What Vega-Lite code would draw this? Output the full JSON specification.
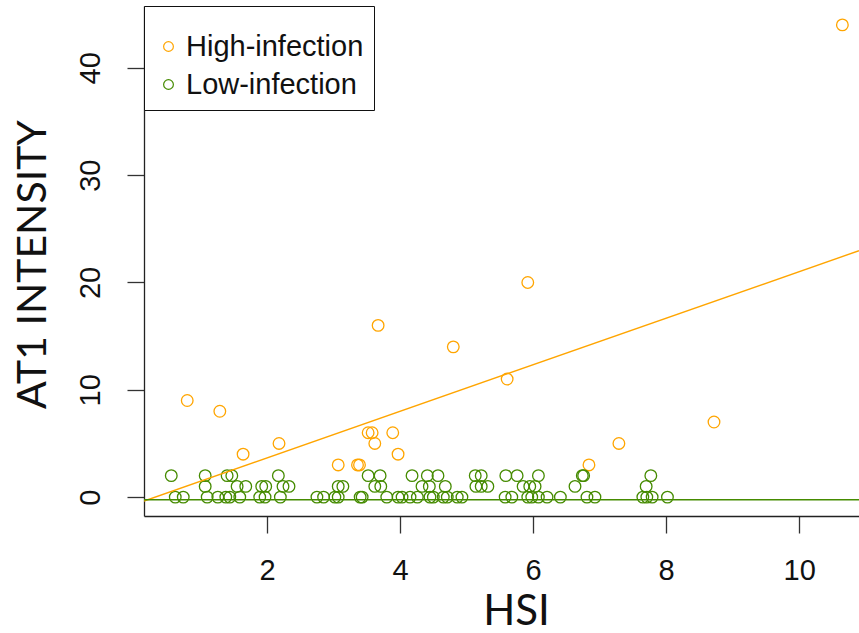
{
  "$schema": "https://vega.github.io/schema/vega-lite/v6.json",
  "autosize": {"type": "none"},
  "padding": {"left": 144, "top": 6, "right": 0, "bottom": 117},
  "width": 715,
  "height": 510,
  "background": "white",
  "config": {"view": {"stroke": null}},
  "datasets": {
    "pts": [
      {"hsi": 0.80, "at1": 9, "group": "High-infection"},
      {"hsi": 1.29, "at1": 8, "group": "High-infection"},
      {"hsi": 1.64, "at1": 4, "group": "High-infection"},
      {"hsi": 2.18, "at1": 5, "group": "High-infection"},
      {"hsi": 3.07, "at1": 3, "group": "High-infection"},
      {"hsi": 3.36, "at1": 3, "group": "High-infection"},
      {"hsi": 3.39, "at1": 3, "group": "High-infection"},
      {"hsi": 3.52, "at1": 6, "group": "High-infection"},
      {"hsi": 3.58, "at1": 6, "group": "High-infection"},
      {"hsi": 3.62, "at1": 5, "group": "High-infection"},
      {"hsi": 3.67, "at1": 16, "group": "High-infection"},
      {"hsi": 3.89, "at1": 6, "group": "High-infection"},
      {"hsi": 3.97, "at1": 4, "group": "High-infection"},
      {"hsi": 4.80, "at1": 14, "group": "High-infection"},
      {"hsi": 5.61, "at1": 11, "group": "High-infection"},
      {"hsi": 5.92, "at1": 20, "group": "High-infection"},
      {"hsi": 6.84, "at1": 3, "group": "High-infection"},
      {"hsi": 7.29, "at1": 5, "group": "High-infection"},
      {"hsi": 8.72, "at1": 7, "group": "High-infection"},
      {"hsi": 10.65, "at1": 44, "group": "High-infection"},
      {"hsi": 0.56, "at1": 2, "group": "Low-infection"},
      {"hsi": 1.07, "at1": 2, "group": "Low-infection"},
      {"hsi": 1.40, "at1": 2, "group": "Low-infection"},
      {"hsi": 1.47, "at1": 2, "group": "Low-infection"},
      {"hsi": 2.17, "at1": 2, "group": "Low-infection"},
      {"hsi": 3.52, "at1": 2, "group": "Low-infection"},
      {"hsi": 3.70, "at1": 2, "group": "Low-infection"},
      {"hsi": 4.18, "at1": 2, "group": "Low-infection"},
      {"hsi": 4.41, "at1": 2, "group": "Low-infection"},
      {"hsi": 4.57, "at1": 2, "group": "Low-infection"},
      {"hsi": 5.13, "at1": 2, "group": "Low-infection"},
      {"hsi": 5.22, "at1": 2, "group": "Low-infection"},
      {"hsi": 5.59, "at1": 2, "group": "Low-infection"},
      {"hsi": 5.76, "at1": 2, "group": "Low-infection"},
      {"hsi": 6.08, "at1": 2, "group": "Low-infection"},
      {"hsi": 6.74, "at1": 2, "group": "Low-infection"},
      {"hsi": 6.76, "at1": 2, "group": "Low-infection"},
      {"hsi": 7.77, "at1": 2, "group": "Low-infection"},
      {"hsi": 1.07, "at1": 1, "group": "Low-infection"},
      {"hsi": 1.55, "at1": 1, "group": "Low-infection"},
      {"hsi": 1.68, "at1": 1, "group": "Low-infection"},
      {"hsi": 1.92, "at1": 1, "group": "Low-infection"},
      {"hsi": 1.98, "at1": 1, "group": "Low-infection"},
      {"hsi": 2.24, "at1": 1, "group": "Low-infection"},
      {"hsi": 2.33, "at1": 1, "group": "Low-infection"},
      {"hsi": 3.07, "at1": 1, "group": "Low-infection"},
      {"hsi": 3.14, "at1": 1, "group": "Low-infection"},
      {"hsi": 3.62, "at1": 1, "group": "Low-infection"},
      {"hsi": 3.71, "at1": 1, "group": "Low-infection"},
      {"hsi": 4.33, "at1": 1, "group": "Low-infection"},
      {"hsi": 4.44, "at1": 1, "group": "Low-infection"},
      {"hsi": 4.68, "at1": 1, "group": "Low-infection"},
      {"hsi": 5.14, "at1": 1, "group": "Low-infection"},
      {"hsi": 5.22, "at1": 1, "group": "Low-infection"},
      {"hsi": 5.32, "at1": 1, "group": "Low-infection"},
      {"hsi": 5.85, "at1": 1, "group": "Low-infection"},
      {"hsi": 5.95, "at1": 1, "group": "Low-infection"},
      {"hsi": 6.03, "at1": 1, "group": "Low-infection"},
      {"hsi": 6.63, "at1": 1, "group": "Low-infection"},
      {"hsi": 7.70, "at1": 1, "group": "Low-infection"},
      {"hsi": 0.62, "at1": 0, "group": "Low-infection"},
      {"hsi": 0.74, "at1": 0, "group": "Low-infection"},
      {"hsi": 1.10, "at1": 0, "group": "Low-infection"},
      {"hsi": 1.26, "at1": 0, "group": "Low-infection"},
      {"hsi": 1.38, "at1": 0, "group": "Low-infection"},
      {"hsi": 1.44, "at1": 0, "group": "Low-infection"},
      {"hsi": 1.59, "at1": 0, "group": "Low-infection"},
      {"hsi": 1.89, "at1": 0, "group": "Low-infection"},
      {"hsi": 1.97, "at1": 0, "group": "Low-infection"},
      {"hsi": 2.20, "at1": 0, "group": "Low-infection"},
      {"hsi": 2.75, "at1": 0, "group": "Low-infection"},
      {"hsi": 2.85, "at1": 0, "group": "Low-infection"},
      {"hsi": 3.02, "at1": 0, "group": "Low-infection"},
      {"hsi": 3.07, "at1": 0, "group": "Low-infection"},
      {"hsi": 3.40, "at1": 0, "group": "Low-infection"},
      {"hsi": 3.43, "at1": 0, "group": "Low-infection"},
      {"hsi": 3.80, "at1": 0, "group": "Low-infection"},
      {"hsi": 3.97, "at1": 0, "group": "Low-infection"},
      {"hsi": 4.03, "at1": 0, "group": "Low-infection"},
      {"hsi": 4.15, "at1": 0, "group": "Low-infection"},
      {"hsi": 4.26, "at1": 0, "group": "Low-infection"},
      {"hsi": 4.45, "at1": 0, "group": "Low-infection"},
      {"hsi": 4.50, "at1": 0, "group": "Low-infection"},
      {"hsi": 4.65, "at1": 0, "group": "Low-infection"},
      {"hsi": 4.71, "at1": 0, "group": "Low-infection"},
      {"hsi": 4.86, "at1": 0, "group": "Low-infection"},
      {"hsi": 4.93, "at1": 0, "group": "Low-infection"},
      {"hsi": 5.58, "at1": 0, "group": "Low-infection"},
      {"hsi": 5.68, "at1": 0, "group": "Low-infection"},
      {"hsi": 5.92, "at1": 0, "group": "Low-infection"},
      {"hsi": 5.98, "at1": 0, "group": "Low-infection"},
      {"hsi": 6.08, "at1": 0, "group": "Low-infection"},
      {"hsi": 6.21, "at1": 0, "group": "Low-infection"},
      {"hsi": 6.41, "at1": 0, "group": "Low-infection"},
      {"hsi": 6.81, "at1": 0, "group": "Low-infection"},
      {"hsi": 6.93, "at1": 0, "group": "Low-infection"},
      {"hsi": 7.65, "at1": 0, "group": "Low-infection"},
      {"hsi": 7.71, "at1": 0, "group": "Low-infection"},
      {"hsi": 7.79, "at1": 0, "group": "Low-infection"},
      {"hsi": 8.02, "at1": 0, "group": "Low-infection"}
    ],
    "fits": [
      {"hsi": 0.15, "at1": -0.36, "group": "High-infection"},
      {"hsi": 10.9, "at1": 22.96, "group": "High-infection"},
      {"hsi": 0.15, "at1": -0.25, "group": "Low-infection"},
      {"hsi": 10.9, "at1": -0.25, "group": "Low-infection"}
    ]
  },
  "layer": [
    {
      "data": {"name": "pts"},
      "mark": {"type": "point", "shape": "circle", "filled": false, "size": 135, "strokeWidth": 1.3, "opacity": 1},
      "encoding": {
        "x": {
          "field": "hsi", "type": "quantitative",
          "scale": {"domain": [0.15, 10.9], "nice": false, "zero": false},
          "axis": {
            "values": [2, 4, 6, 8, 10], "format": "d", "grid": false, "domain": true, "domainColor": "#222", "domainWidth": 1.3,
            "tickSize": 17, "tickColor": "#333", "tickWidth": 1.3,
            "labelFont": "Liberation Sans", "labelFontSize": 29, "labelColor": "#111", "labelPadding": 23,
            "title": "HSI", "titleFont": "Lato", "titleFontSize": 42, "titleFontWeight": "normal", "titleColor": "#111",
            "titleX": 372, "titleY": 108, "titleAlign": "center", "titleBaseline": "alphabetic"
          }
        },
        "y": {
          "field": "at1", "type": "quantitative",
          "scale": {"domain": [-1.76, 45.76], "nice": false, "zero": false},
          "axis": {
            "values": [0, 10, 20, 30, 40], "format": "d", "grid": false, "domain": true, "domainColor": "#222", "domainWidth": 1.3,
            "tickSize": 17, "tickColor": "#333", "tickWidth": 1.3,
            "labelFont": "Liberation Sans", "labelFontSize": 29, "labelColor": "#111", "labelAngle": 270,
            "labelAlign": "center", "labelBaseline": "middle", "labelPadding": 37,
            "title": "AT1 INTENSITY", "titleFont": "Lato", "titleFontSize": 41, "titleFontWeight": "normal", "titleColor": "#111",
            "titleAngle": 270, "titleX": -99, "titleY": 258, "titleAlign": "center", "titleBaseline": "alphabetic"
          }
        },
        "color": {
          "field": "group", "type": "nominal",
          "scale": {"domain": ["High-infection", "Low-infection"], "range": ["#FFA500", "#458B00"]},
          "legend": {
            "orient": "none", "legendX": 0, "legendY": 0, "title": " ", "titleFontSize": 14, "titlePadding": 2,
            "strokeColor": "#111", "fillColor": "white", "padding": 10, "labelLimit": 400,
            "symbolType": "circle", "symbolFillColor": "transparent", "symbolSize": 95, "symbolStrokeWidth": 1.2,
            "labelFont": "Liberation Sans", "labelFontSize": 29, "labelColor": "#111", "labelOffset": 3,
            "rowPadding": 8
          }
        }
      }
    },
    {
      "data": {"name": "fits"},
      "mark": {"type": "line", "strokeWidth": 1.4, "clip": true},
      "encoding": {
        "x": {"field": "hsi", "type": "quantitative"},
        "y": {"field": "at1", "type": "quantitative"},
        "color": {"field": "group", "type": "nominal"},
        "detail": {"field": "group"}
      }
    },
    {
      "mark": {"type": "rule", "color": "#222", "strokeWidth": 1.3},
      "encoding": {"y": {"datum": 45.76}}
    }
  ]
}
